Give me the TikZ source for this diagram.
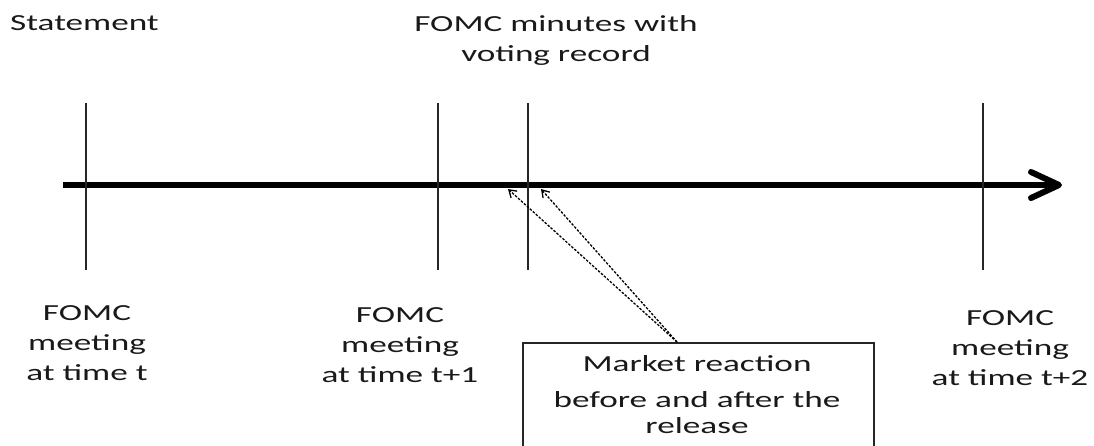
\documentclass[tikz,border=0pt]{standalone}
\usepackage{fontspec}
\setmainfont{Carlito}[FakeStretch=1.53]
\usetikzlibrary{arrows.meta}
\begin{document}
\begin{tikzpicture}[x=1pt,y=-1pt,
  lbl/.style={font=\fontsize{23}{30}\selectfont, inner sep=0pt, align=center, anchor=north, text=black!90},
  boxlbl/.style={font=\fontsize{23}{26}\selectfont, inner sep=0pt, align=center, anchor=north, text=black!90},
  tick/.style={line width=2pt, black!85},
  axis/.style={line width=6pt, -{Straight Barb[length=28pt,width=26pt,line cap=round,line join=round]}},
  react/.style={line width=1.3pt, dash pattern=on 2.5pt off 1.5pt, -{Straight Barb[length=7pt,width=9pt]}},
  frame/.style={draw=black!85, line width=1.5pt, inner sep=0pt}
]
\useasboundingbox (0,0) rectangle (1094,445);
\clip (0,0) rectangle (1094,445);
% axis
\coordinate (a0) at (63,185);
\coordinate (a1) at (1062,185);
\draw[axis] (a0) -- (a1);
% ticks
\foreach \n/\x in {t0/86, t1/438, m/528, t2/983}{
  \coordinate (\n top) at (\x,103);
  \coordinate (\n bot) at (\x,270);
  \draw[tick] (\n top) -- (\n bot);
}
% top labels
\node[lbl, anchor=north west] (stmt) at (10,15) {Statement};
\node[lbl] (minutes) at (556,15) {FOMC minutes with\\voting record};
% bottom labels
\node[lbl] (meet0) at (87,305) {FOMC\\meeting\\at time t};
\node[lbl] (meet1) at (400,307) {FOMC\\meeting\\at time t+1};
\node[lbl] (meet2) at (1010,310) {FOMC\\meeting\\at time t+2};
% box
\node[frame, draw, minimum width=351pt, minimum height=120pt, anchor=north west] (box) at (522,342) {};
\node[boxlbl] (boxtxt) at (697,355) {Market reaction\\[10pt]before and after the\\release};
% reaction arrows
\coordinate (src) at (677,342);
\coordinate (tipA) at (508,189);
\coordinate (tipB) at (541,189);
\draw[react] (src) -- (tipA);
\draw[react] (src) -- (tipB);
\end{tikzpicture}
\end{document}
